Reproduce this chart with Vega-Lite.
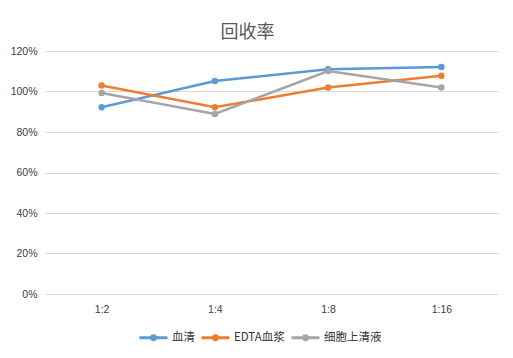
{
  "$schema": "https://vega.github.io/schema/vega-lite/v6.json",
  "autosize": {"type": "none"},
  "width": 453,
  "height": 243,
  "padding": {"left": 45, "top": 51, "right": 15, "bottom": 64},
  "background": "white",
  "title": {"text": "回收率", "anchor": "middle", "frame": "group", "dx": -24, "offset": 4, "fontSize": 18, "fontWeight": "normal", "font": "Noto Sans CJK SC", "color": "#595959"},
  "config": {"view": {"stroke": null}, "font": "Noto Sans CJK SC"},
  "data": {"values": [
    {"ratio": "1:2", "series": "血清", "value": 0.922},
    {"ratio": "1:4", "series": "血清", "value": 1.052},
    {"ratio": "1:8", "series": "血清", "value": 1.11},
    {"ratio": "1:16", "series": "血清", "value": 1.121},
    {"ratio": "1:2", "series": "EDTA血浆", "value": 1.03},
    {"ratio": "1:4", "series": "EDTA血浆", "value": 0.922},
    {"ratio": "1:8", "series": "EDTA血浆", "value": 1.02},
    {"ratio": "1:16", "series": "EDTA血浆", "value": 1.078},
    {"ratio": "1:2", "series": "细胞上清液", "value": 0.993},
    {"ratio": "1:4", "series": "细胞上清液", "value": 0.889},
    {"ratio": "1:8", "series": "细胞上清液", "value": 1.101},
    {"ratio": "1:16", "series": "细胞上清液", "value": 1.02}
  ]},
  "mark": {"type": "line", "strokeWidth": 2.5, "point": {"size": 42, "filled": true, "opacity": 1}},
  "encoding": {
    "x": {"field": "ratio", "type": "nominal", "sort": null, "scale": {"type": "point", "padding": 0.5},
      "axis": {"title": null, "labelAngle": 0, "ticks": false, "domainColor": "#D9D9D9", "labelColor": "#404040", "labelFontSize": 10.5, "labelPadding": 10, "labelFont": "Liberation Sans"}},
    "y": {"field": "value", "type": "quantitative", "scale": {"domain": [0, 1.2]},
      "axis": {"title": null, "values": [0, 0.2, 0.4, 0.6, 0.8, 1.0, 1.2], "format": ".0%", "ticks": false, "domain": false, "gridColor": "#D9D9D9", "labelColor": "#404040", "labelFontSize": 10.5, "labelPadding": 8, "labelFont": "Liberation Sans"}},
    "color": {"field": "series", "type": "nominal", "sort": ["血清", "EDTA血浆", "细胞上清液"],
      "scale": {"domain": ["血清", "EDTA血浆", "细胞上清液"], "range": ["#5B9BD5", "#ED7D31", "#A5A5A5"]},
      "legend": {"title": null, "orient": "none", "legendX": 93, "legendY": 271, "direction": "horizontal", "labelFontSize": 11.5, "labelColor": "#333333",
        "symbolType": "M-1,0L1,0M0.14,0A0.14,0.14 0 1,1 -0.14,0A0.14,0.14 0 1,1 0.14,0",
        "symbolSize": 784, "symbolStrokeWidth": 3, "symbolOffset": 0, "labelOffset": 3, "columnPadding": 0, "symbolFillColor": "transparent"}}
  }
}
